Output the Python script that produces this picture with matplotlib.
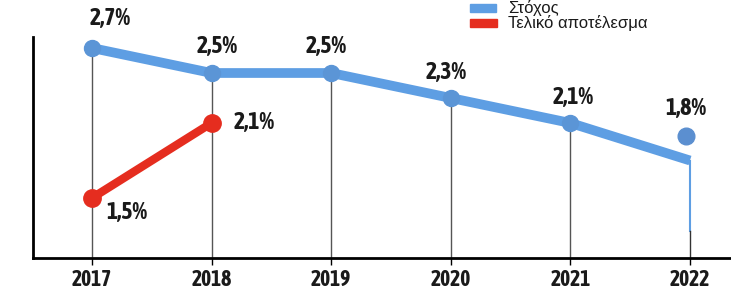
import numpy as np
import matplotlib
matplotlib.use("Agg")
import matplotlib.pyplot as plt
from matplotlib.patches import Rectangle
from matplotlib.transforms import offset_copy

plt.rcParams['font.family'] = ['Asap Condensed', 'DejaVu Sans']
plt.rcParams['font.stretch'] = 'condensed'

# ---------------------------------------------------------------
# data
# ---------------------------------------------------------------
years = [2017, 2018, 2019, 2020, 2021, 2022]
target = [2.7, 2.5, 2.5, 2.3, 2.1, 1.8]
target_labels = ['2,7%', '2,5%', '2,5%', '2,3%', '2,1%', '1,8%']
result_years = [2017, 2018]
result = [1.5, 2.1]
result_labels = ['1,5%', '2,1%']

blue = '#5e9ee3'
red = '#e52d1f'

W, H = 731, 291
fig = plt.figure(figsize=(W / 100, H / 100), dpi=100)
ax = fig.add_axes([33 / W, 33 / H, (W - 33) / W, (H - 33) / H])
ax.set_xlim(2016.507, 2022.343)
ax.set_ylim(1.02, 3.084)

# vertical guide lines
for x, y in zip(years[:-1], target[:-1]):
    ax.plot([x, x], [1.02, y], color='#555555', lw=1, zorder=1)
ax.plot([years[-1]] * 2, [1.24, target[-1]], color=blue, lw=1.5, zorder=1)
ax.plot([years[-1]] * 2, [1.02, 1.24], color='#333333', lw=1, zorder=1)

# target line
ax.plot(years, target, color=blue, lw=7, solid_capstyle='butt', zorder=3)
ax.plot(years[:-1], target[:-1], 'o', color='#5b95d6', ms=11.5, zorder=4)
# last target dot sits above the line end
tr = offset_copy(ax.transData, fig=fig, x=-4, y=25, units='dots')
ax.plot([years[-1]], [target[-1]], 'o', color='#5b8fd0', ms=12, transform=tr, zorder=4)

# final result line
ax.plot(result_years, result, color=red, lw=6, zorder=5)
ax.plot(result_years, result, 'o', color=red, ms=12.5, zorder=6)

# labels
offsets = [(13, 21.6), (4.3, 19.4), (-3.6, 19.4), (-3.6, 18.7), (2, 18.7), (-2.9, 37.4)]
for x, y, s, off in zip(years, target, target_labels, offsets):
    ax.annotate(s, (x, y), xytext=off, textcoords='offset points', ha='center', va='center',
                fontsize=17, fontweight='bold', color='#1a1a1a', zorder=7)
roffs = [(25, -10.8), (31, 0)]
for x, y, s, off in zip(result_years, result, result_labels, roffs):
    ax.annotate(s, (x, y), xytext=off, textcoords='offset points', ha='center', va='center',
                fontsize=17, fontweight='bold', color='#1a1a1a', zorder=7)

# axes style
for side in ['top', 'right']:
    ax.spines[side].set_visible(False)
ax.spines['left'].set_bounds(1.02, 2.788)
ax.spines['left'].set_linewidth(2)
ax.spines['bottom'].set_linewidth(2)
ax.set_xticks(years)
ax.set_xticklabels([str(y) for y in years], fontsize=15.5, fontweight='bold', color='#1a1a1a')
ax.tick_params(axis='x', direction='out', length=5, width=1, pad=3)
ax.set_yticks([])

# legend
fig.add_artist(Rectangle((470 / W, 1 - 12 / H), 26 / W, 8 / H, transform=fig.transFigure,
                         color=blue))
fig.text(508 / W, 1 - 8 / H, 'Στόχος', fontsize=12, va='center', ha='left',
         family=['Liberation Sans', 'DejaVu Sans'], stretch='normal', color='#1a1a1a')
fig.add_artist(Rectangle((470 / W, 1 - 27 / H), 27 / W, 8 / H, transform=fig.transFigure,
                         color=red))
fig.text(508 / W, 1 - 23 / H, 'Τελικό αποτέλεσμα', fontsize=12, va='center', ha='left',
         family=['Liberation Sans', 'DejaVu Sans'], stretch='normal', color='#1a1a1a')

fig.savefig('out.png', dpi=100)
